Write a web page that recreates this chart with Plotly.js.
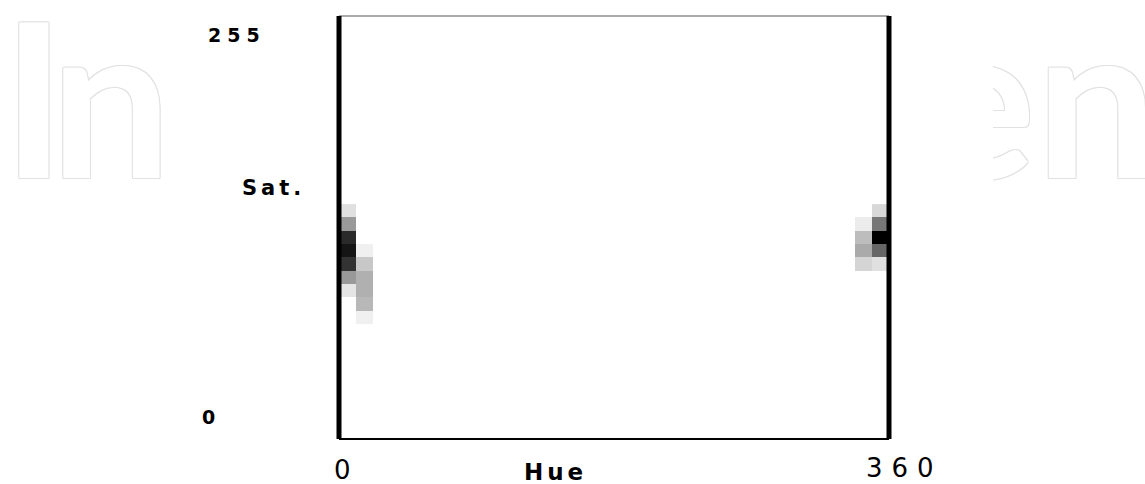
<!DOCTYPE html>
<html>
<head>
<meta charset="utf-8">
<script src="https://cdn.plot.ly/plotly-3.0.1.min.js"></script>
<style>
html,body{margin:0;padding:0;background:#fff;}
#chart{width:1145px;height:484px;}
</style>
</head>
<body>
<div id="chart"></div>
<script>
// ---- data ----
const hueRange = [0, 360];
const satRange = [0, 255];
const hueBinCount = 32;
// saturation bins (centres), bottom to top, covering the occupied part of the histogram
const satCenters = [73.3, 81.3, 89.4, 97.4, 105.5, 113.5, 121.5, 129.6, 137.6];
// darkness (0 = empty, 255 = max) per saturation bin for the occupied hue bins
const hueBin0  = [0, 0, 26, 102, 204, 234, 213, 102, 31];
const hueBin1  = [15, 71, 79, 79, 55, 15, 0, 0, 0];
const hueBin30 = [0, 0, 0, 0, 42, 85, 66, 19, 0];
const hueBin31 = [0, 0, 0, 0, 31, 153, 255, 136, 39];
const xTickLabels = ['0', '360'];
const yTickLabels = ['0', '255'];
const xTitle = 'Hue';
const yTitle = 'Sat.';

// ---- build the histogram matrix ----
const binW = (hueRange[1] - hueRange[0]) / hueBinCount;
const hueCenters = [];
for (let i = 0; i < hueBinCount; i++) hueCenters.push(hueRange[0] + binW * (i + 0.5));
const filled = {0: hueBin0, 1: hueBin1, 30: hueBin30, 31: hueBin31};
const z = satCenters.map((_, r) => hueCenters.map((_, c) => filled[c] ? filled[c][r] : 0));

const trace = {
  type: 'heatmap',
  x: hueCenters,
  y: satCenters,
  z: z,
  zmin: 0, zmax: 255,
  colorscale: [[0, '#ffffff'], [1, '#000000']],
  showscale: false,
  zsmooth: false,
  hoverinfo: 'skip'
};

const yLblFont = {family: 'DejaVu Sans', size: 19, color: '#000', weight: 700};
const xLblFont = {family: 'DejaVu Sans', size: 26, color: '#000'};
const titleFont = {family: 'DejaVu Sans', size: 21, color: '#000', weight: 700};
const hueFont = {family: 'DejaVu Sans', size: 23, color: '#000', weight: 700};
const sp = (t, px) => '<span style="letter-spacing:' + px + 'px">' + t + '</span>';
const wmShadow = '1px 1px 0 #e2e2e2, -1px -1px 0 #e2e2e2, 1px -1px 0 #e2e2e2, -1px 1px 0 #e2e2e2';
const wm = {family: 'Lato', size: 215, color: '#ffffff', weight: 700, shadow: wmShadow};

const layout = {
  width: 1145, height: 484,
  margin: {l: 339, r: 256, t: 16, b: 45, pad: 0},
  paper_bgcolor: '#ffffff',
  plot_bgcolor: '#ffffff',
  showlegend: false,
  xaxis: {range: hueRange, showgrid: false, zeroline: false, showticklabels: false, ticks: '', showline: false, fixedrange: true},
  yaxis: {range: satRange, showgrid: false, zeroline: false, showticklabels: false, ticks: '', showline: false, fixedrange: true},
  shapes: [
    {type: 'line', xref: 'paper', yref: 'paper', x0: 0, x1: 1, y0: 1, y1: 1, line: {color: '#555555', width: 1}},
    {type: 'line', xref: 'paper', yref: 'paper', x0: 0, x1: 1, y0: 0, y1: 0, line: {color: '#000000', width: 2}},
    {type: 'line', xref: 'paper', yref: 'paper', x0: 0, x1: 0, y0: 0, y1: 1, line: {color: '#000000', width: 5}},
    {type: 'line', xref: 'paper', yref: 'paper', x0: 1, x1: 1, y0: 0, y1: 1, line: {color: '#000000', width: 5}}
  ],
  annotations: [
    // watermark (faint outlined letters)
    {text: sp('In', -14), xref: 'paper', yref: 'paper', x: 0, y: 1, xanchor: 'left', yanchor: 'top', xshift: -339, yshift: 52, showarrow: false, font: wm},
    {text: 'en', xref: 'paper', yref: 'paper', x: 1, y: 1, xanchor: 'left', yanchor: 'top', xshift: 30, yshift: 52, showarrow: false, font: wm},
    // white mask hiding the left part of the watermark "e", as in the reference
    {text: ' ', xref: 'paper', yref: 'paper', x: 1, y: 1, xanchor: 'left', yanchor: 'top', xshift: 4, yshift: 0, width: 100, height: 240, bgcolor: '#ffffff', borderpad: 0, borderwidth: 0, showarrow: false, font: {size: 10}},
    // y tick labels
    {text: sp(yTickLabels[1], 6), xref: 'paper', yref: 'y', x: 0, y: satRange[1], xanchor: 'center', yanchor: 'middle', xshift: -102, yshift: -18.5, showarrow: false, font: yLblFont},
    {text: yTickLabels[0], xref: 'paper', yref: 'y', x: 0, y: satRange[0], xanchor: 'center', yanchor: 'middle', xshift: -131, yshift: 22.5, showarrow: false, font: yLblFont},
    // x tick labels
    {text: xTickLabels[0], xref: 'x', yref: 'paper', x: hueRange[0], y: 0, xanchor: 'center', yanchor: 'middle', xshift: 3, yshift: -31, showarrow: false, font: xLblFont},
    {text: sp(xTickLabels[1], 9), xref: 'x', yref: 'paper', x: hueRange[1], y: 0, xanchor: 'center', yanchor: 'middle', xshift: 15.5, yshift: -28.5, showarrow: false, font: xLblFont},
    // axis titles
    {text: sp(xTitle, 4), xref: 'paper', yref: 'paper', x: 0.3935, y: 0, xanchor: 'center', yanchor: 'middle', yshift: -33, showarrow: false, font: hueFont},
    {text: sp(yTitle, 4), xref: 'paper', yref: 'paper', x: 0, y: 0.593, xanchor: 'center', yanchor: 'middle', xshift: -66, showarrow: false, font: titleFont}
  ]
};

Plotly.newPlot('chart', [trace], layout, {staticPlot: true, displayModeBar: false});
</script>
</body>
</html>
